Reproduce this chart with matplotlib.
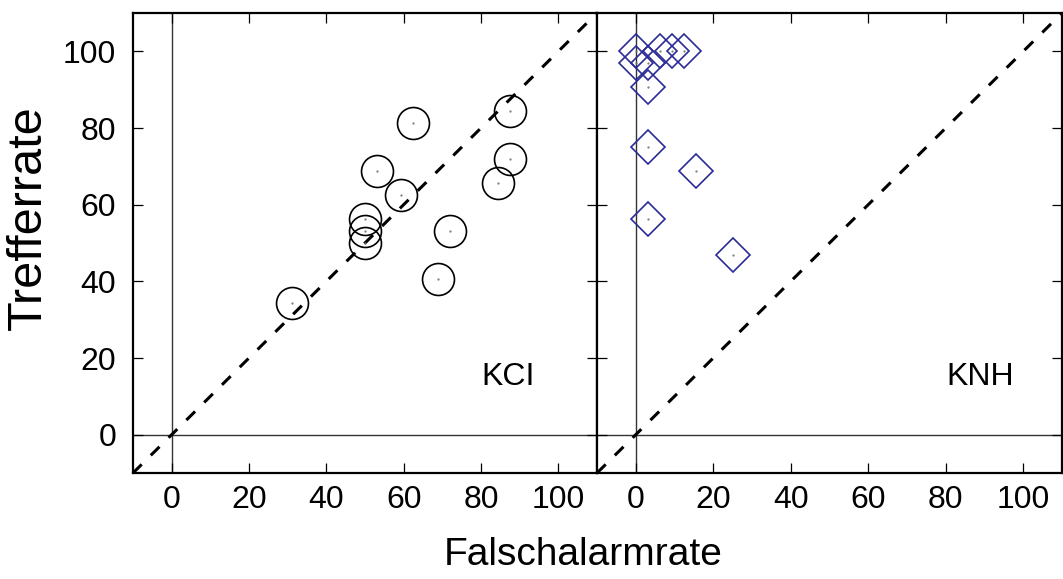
import matplotlib
matplotlib.use("Agg")
import matplotlib.pyplot as plt

plt.rcParams['font.family'] = ['Liberation Sans', 'DejaVu Sans']

# false alarm rate / hit rate per participant (%)
kci_fa = [31.2, 50.0, 50.0, 50.0, 53.1, 59.4, 62.5, 71.9, 68.8, 84.4, 87.5, 87.5]
kci_hit = [34.4, 56.2, 53.1, 50.0, 68.8, 62.5, 81.2, 53.1, 40.6, 65.6, 71.9, 84.4]

knh_fa = [0.0, 6.25, 9.4, 12.5, 0.0, 3.1, 3.1, 3.1, 15.6, 3.1, 25.0]
knh_hit = [100.0, 100.0, 100.0, 100.0, 96.9, 96.9, 90.6, 75.0, 68.75, 56.25, 46.9]

ticks = [0, 20, 40, 60, 80, 100]
lims = (-10, 110)

fig = plt.figure(figsize=(10.63, 5.79), dpi=100)
bottom = 1 - 473 / 579
height = (473 - 13) / 579
ax1 = fig.add_axes([133 / 1063, bottom, (597 - 133) / 1063, height])
ax2 = fig.add_axes([597 / 1063, bottom, (1062 - 597) / 1063, height])


def panel(ax, fa, hit, marker, color, ms, name, name_x, ylabels):
    ax.axhline(0, color='#333333', lw=1.0, zorder=1)
    ax.axvline(0, color='#333333', lw=1.0, zorder=1)
    ax.plot(lims, lims, color='black', lw=2.2, dashes=(4, 4.2), zorder=2)
    ax.plot(fa, hit, linestyle='none', marker=marker, ms=ms,
            markerfacecolor='none', markeredgecolor=color, mew=1.2, zorder=3)
    ax.plot(fa, hit, linestyle='none', marker='.', ms=1.2, color='#777777',
            zorder=3)
    ax.text(name_x, 15, name, fontsize=23, ha='center', va='center')
    ax.set_xlim(lims)
    ax.set_ylim(lims)
    ax.set_xticks(ticks)
    ax.set_yticks(ticks)
    ax.tick_params(direction='in', length=7, width=0.9, top=True, right=True,
                   labelsize=23)
    ax.tick_params(axis='x', pad=9)
    ax.tick_params(axis='y', pad=12)
    if not ylabels:
        ax.set_yticklabels([])
    for s in ax.spines.values():
        s.set_linewidth(1.6)


panel(ax1, kci_fa, kci_hit, 'o', 'black', 23, 'KCI', 87, True)
panel(ax2, knh_fa, knh_hit, 'D', '#2b2b98', 17.5, 'KNH', 88.8, False)

fig.text(583 / 1063, 1 - 555 / 579, 'Falschalarmrate', fontsize=28,
         ha='center', va='center')
fig.text(28 / 1063, 1 - 218 / 579, 'Trefferrate', fontsize=35,
         ha='center', va='center', rotation=90)

fig.savefig('out.png', dpi=100)
